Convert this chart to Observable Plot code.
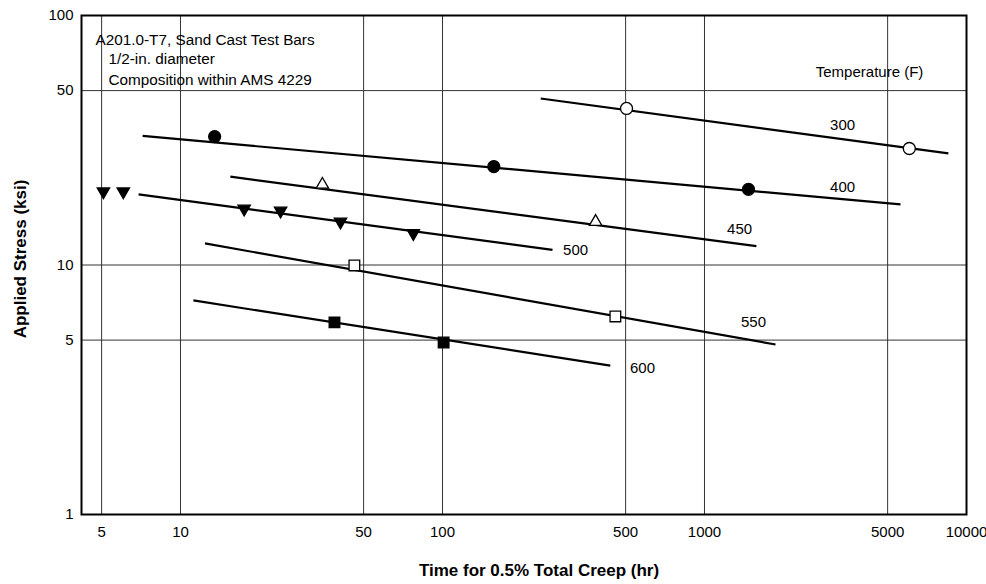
<!DOCTYPE html>
<html><head><meta charset="utf-8">
<script src="https://cdn.jsdelivr.net/npm/d3@7"></script>
<script src="https://cdn.jsdelivr.net/npm/@observablehq/plot@0.6"></script>
<style>body{margin:0;background:#fff;}</style>
</head><body><div id="chart"></div>
<script>
// Tick labels and grid
const xTicks = [5, 10, 50, 100, 500, 1000, 5000, 10000];
const yTicks = [1, 5, 10, 50, 100];
const xGrid = [5, 10, 50, 100, 500, 1000, 5000];
const yGrid = [5, 10, 50];

// Temperatures (F)
const temps = ["300", "400", "450", "500", "550", "600"];

// Fitted lines (start / end) per temperature
const fitTime1 = [237, 7.17, 15.5, 6.92, 12.4, 11.2];
const fitStress1 = [46.5, 32.9, 22.6, 19.2, 12.2, 7.21];
const fitTime2 = [8530, 5600, 1578, 263, 1867, 437];
const fitStress2 = [28.0, 17.5, 11.9, 11.5, 4.80, 3.95];

// Test points
const ptTemp = ["300","300","400","400","400","450","450","500","500","500","500","500","500","550","550","600","600"];
const ptTime = [504, 6050, 13.5, 157, 1472, 34.8, 384, 5.08, 6.05, 17.5, 24.1, 40.8, 77.4, 46.1, 457, 38.7, 101];
const ptStress = [42.4, 29.3, 32.7, 24.8, 20.1, 21.0, 14.9, 19.7, 19.7, 16.8, 16.5, 14.9, 13.4, 9.96, 6.22, 5.89, 4.89];

// Curve labels
const labelTime = [3365, 3365, 1361, 322, 1538, 580];
const labelStress = [36.5, 20.6, 13.9, 11.5, 5.89, 3.85];

const legendTitle = "Temperature (F)";
const legendTime = [4265];
const legendStress = [59.2];

const noteLines = ["A201.0-T7, Sand Cast Test Bars", "1/2-in. diameter", "Composition within AMS 4229"];

const fits = temps.map((t, i) => ({t, x1: fitTime1[i], y1: fitStress1[i], x2: fitTime2[i], y2: fitStress2[i]}));
const pts = ptTemp.map((t, i) => ({t, x: ptTime[i], y: ptStress[i]}));
const labels = temps.map((t, i) => ({t, x: labelTime[i], y: labelStress[i]}));

const triDown = {
  draw(ctx, size) {
    const h = Math.sqrt(size / (Math.sqrt(3) * 3));
    ctx.moveTo(0, 2 * h);
    ctx.lineTo(-Math.sqrt(3) * h, -h);
    ctx.lineTo(Math.sqrt(3) * h, -h);
    ctx.closePath();
  }
};

const styleFor = {
  "300": {symbol: "circle", fill: "white", r: 6},
  "400": {symbol: "circle", fill: "black", r: 6},
  "450": {symbol: "triangle", fill: "white", r: 4.6},
  "500": {symbol: triDown, fill: "black", r: 4.6},
  "550": {symbol: "square", fill: "white", r: 6},
  "600": {symbol: "square", fill: "black", r: 6}
};

const dotMarks = temps.map(t => Plot.dot(pts.filter(d => d.t === t), {
  x: "x", y: "y", symbol: styleFor[t].symbol, fill: styleFor[t].fill,
  stroke: "black", strokeWidth: 1.3, r: styleFor[t].r
}));

const chart = Plot.plot({
  width: 986, height: 584,
  marginLeft: 81, marginRight: 20, marginTop: 15, marginBottom: 70,
  style: {fontFamily: "'Liberation Sans', Arial, sans-serif", fontSize: "15px", color: "black", background: "white"},
  x: {type: "log", domain: [4.19, 10000], axis: null},
  y: {type: "log", domain: [1, 100], axis: null},
  marks: [
    Plot.ruleX(xGrid, {stroke: "#333", strokeWidth: 1}),
    Plot.ruleY(yGrid, {stroke: "#333", strokeWidth: 1}),
    Plot.text(xTicks, {x: d => d, frameAnchor: "bottom", lineAnchor: "middle", dy: 18, text: d => String(d), fontSize: 15, fill: "black"}),
    Plot.text(yTicks, {y: d => d, frameAnchor: "left", textAnchor: "end", lineAnchor: "middle", dx: -8, text: d => String(d), fontSize: 15, fill: "black"}),
    Plot.link(fits, {x1: "x1", y1: "y1", x2: "x2", y2: "y2", stroke: "black", strokeWidth: 2.2}),
    ...dotMarks,
    Plot.text(labels, {x: "x", y: "y", text: "t", fontSize: 15, fill: "black"}),
    Plot.text([legendTitle], {x: legendTime, y: legendStress, text: d => d, fontSize: 15, fill: "black"}),
    Plot.text([noteLines[0]], {frameAnchor: "top-left", lineAnchor: "middle", dx: 14, dy: 25, text: d => d, textAnchor: "start", fontSize: 15.3, fill: "black"}),
    Plot.text([noteLines[1]], {frameAnchor: "top-left", lineAnchor: "middle", dx: 27, dy: 44, text: d => d, textAnchor: "start", fontSize: 15.3, fill: "black"}),
    Plot.text([noteLines[2]], {frameAnchor: "top-left", lineAnchor: "middle", dx: 27, dy: 65, text: d => d, textAnchor: "start", fontSize: 15.3, fill: "black"}),
    Plot.text(["Time for 0.5% Total Creep (hr)"], {frameAnchor: "bottom", lineAnchor: "middle", textAnchor: "middle", dx: 15, dy: 56, text: d => d, fontSize: 17, fontWeight: "bold", fill: "black"}),
    Plot.text(["Applied Stress (ksi)"], {frameAnchor: "left", lineAnchor: "middle", textAnchor: "middle", dx: -61, dy: -6, rotate: -90, text: d => d, fontSize: 17, fontWeight: "bold", fill: "black"}),
    Plot.frame({stroke: "black", strokeWidth: 2})
  ]
});
document.getElementById("chart").appendChild(chart);
</script>
</body></html>
